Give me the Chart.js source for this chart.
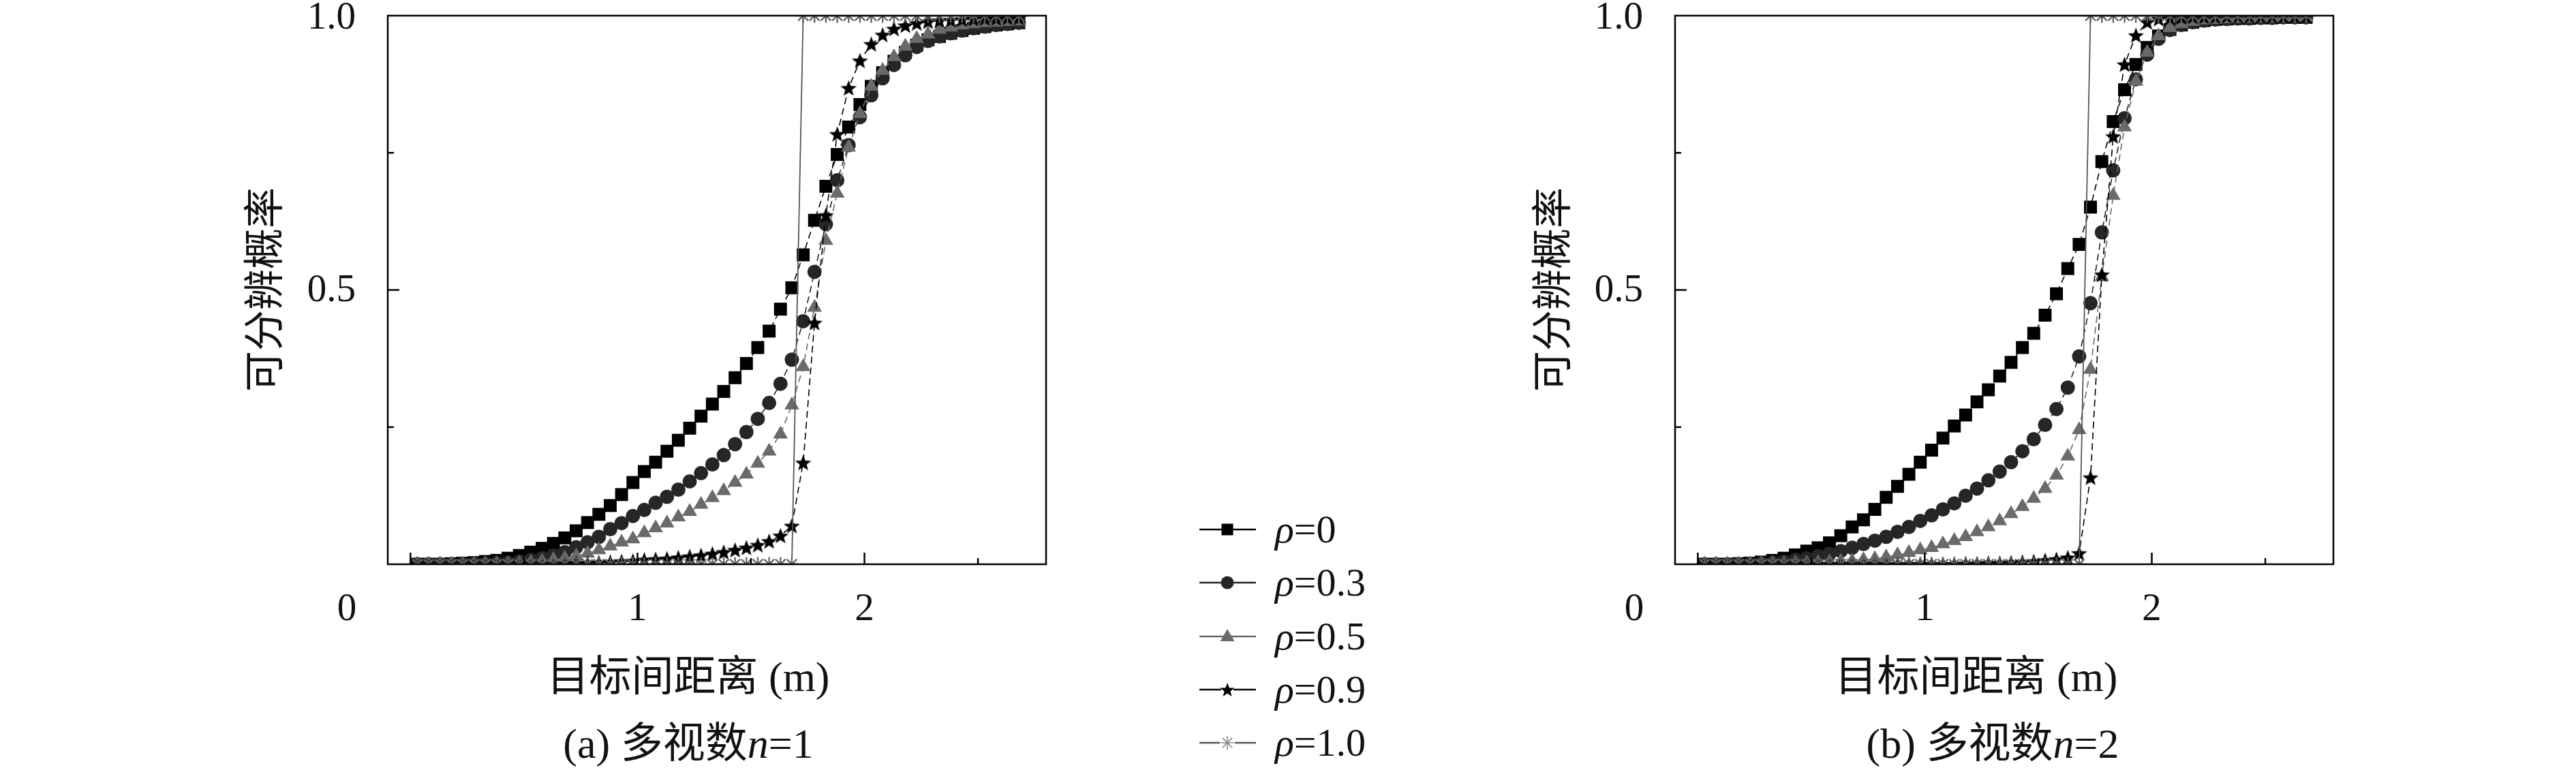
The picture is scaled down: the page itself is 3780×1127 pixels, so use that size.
<!DOCTYPE html>
<html>
<head>
<meta charset="utf-8">
<script src="https://cdn.jsdelivr.net/npm/chart.js@4/dist/chart.umd.min.js"></script>
<style>
  html, body { margin: 0; padding: 0; background: #fff; }
  #page { position: relative; width: 3780px; height: 1127px; overflow: hidden; background: #fff; }
  canvas.plot { position: absolute; top: 0; }
  .txt { position: absolute; white-space: nowrap; color: #111; line-height: 1; font-size: 62px;
         font-family: "Liberation Serif", "Noto Sans CJK SC", serif; transform: translate(-50%, -50%); }
  .cjk { font-family: "Noto Sans CJK SC", sans-serif; }
  .ytitle { font-size: 60px; transform: translate(-50%, -50%) rotate(-90deg); }
  .leg-row { position: absolute; left: 1755px; height: 40px; }
  .leg-row canvas { position: absolute; left: 0; top: 0; }
  .leg-row span { position: absolute; left: 116px; top: 20px; transform: translateY(-50%);
                  font-family: "Liberation Serif", serif; font-size: 58px; line-height: 1; white-space: nowrap; color: #111; }
</style>
</head>
<body>
<div id="page">
  <canvas id="chartA" class="plot" width="1300" height="960" style="left:400px"></canvas>
  <canvas id="chartB" class="plot" width="1300" height="960" style="left:2290px"></canvas>

  <div class="txt ytitle cjk" style="left:383px; top:425px;">可分辨概率</div>
  <div class="txt" style="left:1010px; top:990px;"><span class="cjk">目标间距离</span> (m)</div>
  <div class="txt" style="left:1010px; top:1088px;">(a) <span class="cjk">多视数</span><i>n</i>=1</div>

  <div class="txt ytitle cjk" style="left:2273px; top:425px;">可分辨概率</div>
  <div class="txt" style="left:2900px; top:990px;"><span class="cjk">目标间距离</span> (m)</div>
  <div class="txt" style="left:2924px; top:1088px;">(b) <span class="cjk">多视数</span><i>n</i>=2</div>

  <div id="legend"></div>
</div>

<script>
// target separation (m)
const distance = [0.03,0.08,0.13,0.18,0.23,0.28,0.33,0.38,0.43,0.48,
  0.53,0.58,0.63,0.68,0.73,0.78,0.83,0.88,0.93,0.98,
  1.03,1.08,1.13,1.18,1.23,1.28,1.33,1.38,1.43,1.48,
  1.53,1.58,1.63,1.68,1.73,1.78,1.83,1.88,1.93,1.98,
  2.03,2.08,2.13,2.18,2.23,2.28,2.33,2.38,2.43,2.48,
  2.53,2.58,2.63,2.68];

const rhoLabels = ['0', '0.3', '0.5', '0.9', '1.0'];

// (a) n = 1
const n1Rho0 = [0,0,0,0.001,0.002,0.003,0.005,0.007,0.011,0.016,
  0.022,0.029,0.038,0.048,0.061,0.076,0.091,0.107,0.127,0.149,
  0.169,0.186,0.206,0.226,0.248,0.270,0.292,0.315,0.340,0.366,
  0.395,0.425,0.465,0.504,0.564,0.627,0.689,0.747,0.797,0.838,
  0.871,0.896,0.917,0.933,0.946,0.956,0.962,0.968,0.973,0.977,
  0.980,0.983,0.985,0.987];
const n1Rho3 = [0,0,0,0,0.001,0.001,0.001,0.002,0.003,0.005,
  0.008,0.011,0.016,0.022,0.031,0.040,0.050,0.064,0.075,0.088,
  0.099,0.112,0.123,0.136,0.151,0.166,0.182,0.199,0.219,0.241,
  0.265,0.294,0.329,0.373,0.443,0.533,0.620,0.700,0.764,0.815,
  0.855,0.886,0.910,0.928,0.943,0.954,0.962,0.968,0.973,0.977,
  0.980,0.983,0.985,0.987];
const n1Rho5 = [0,0,0,0,0,0,0.001,0.001,0.001,0.002,
  0.003,0.005,0.008,0.011,0.015,0.020,0.026,0.033,0.040,0.046,
  0.057,0.066,0.075,0.086,0.096,0.109,0.121,0.134,0.149,0.164,
  0.184,0.206,0.237,0.290,0.360,0.468,0.590,0.676,0.760,0.821,
  0.871,0.900,0.925,0.944,0.958,0.966,0.975,0.979,0.983,0.985,
  0.987,0.988,0.989,0.990];
const n1Rho9 = [0,0,0,0,0,0,0,0,0,0,
  0,0,0,0.001,0.002,0.002,0.003,0.004,0.005,0.006,
  0.008,0.009,0.010,0.012,0.014,0.016,0.019,0.022,0.026,0.030,
  0.035,0.042,0.052,0.070,0.185,0.440,0.636,0.784,0.868,0.918,
  0.948,0.965,0.976,0.982,0.986,0.989,0.991,0.992,0.993,0.994,
  0.995,0.995,0.996,0.996];
const n1Rho10 = [0,0,0,0,0,0,0,0,0,0,
  0,0,0,0,0,0,0,0,0,0,
  0,0,0,0,0,0,0,0,0,0,
  0,0,0,0,1,1,1,1,1,1,
  1,1,1,1,1,1,1,1,1,1,
  1,1,1,1];

// (b) n = 2
const n2Rho0 = [0,0,0,0.001,0.002,0.004,0.007,0.011,0.017,0.024,
  0.030,0.039,0.052,0.068,0.081,0.100,0.122,0.142,0.164,0.186,
  0.208,0.230,0.252,0.272,0.296,0.318,0.343,0.368,0.395,0.421,
  0.454,0.493,0.539,0.583,0.651,0.734,0.807,0.865,0.911,0.942,
  0.963,0.975,0.983,0.988,0.991,0.993,0.994,0.995,0.995,0.996,
  0.996,0.997,0.997,0.997];
const n2Rho3 = [0,0,0,0,0.001,0.002,0.003,0.005,0.008,0.011,
  0.015,0.019,0.024,0.030,0.037,0.043,0.050,0.059,0.068,0.079,
  0.089,0.100,0.111,0.125,0.138,0.153,0.169,0.186,0.206,0.228,
  0.254,0.283,0.322,0.379,0.476,0.605,0.718,0.813,0.884,0.929,
  0.958,0.974,0.983,0.988,0.991,0.993,0.994,0.995,0.995,0.996,
  0.996,0.997,0.997,0.997];
const n2Rho5 = [0,0,0,0,0,0.001,0.001,0.001,0.002,0.002,
  0.003,0.004,0.005,0.006,0.008,0.010,0.013,0.017,0.021,0.026,
  0.030,0.037,0.043,0.050,0.059,0.068,0.079,0.092,0.105,0.120,
  0.138,0.162,0.197,0.245,0.355,0.524,0.672,0.797,0.880,0.933,
  0.963,0.978,0.985,0.989,0.992,0.993,0.994,0.995,0.995,0.996,
  0.996,0.997,0.997,0.997];
const n2Rho9 = [0,0,0,0,0,0,0,0,0,0,
  0,0,0,0,0,0,0,0,0,0,
  0,0,0,0.001,0.001,0.002,0.002,0.003,0.004,0.005,
  0.007,0.009,0.012,0.020,0.158,0.528,0.780,0.911,0.964,0.988,
  0.994,0.996,0.997,0.998,0.998,0.998,0.999,0.999,0.999,0.999,
  0.999,0.999,0.999,0.999];
const n2Rho10 = [0,0,0,0,0,0,0,0,0,0,
  0,0,0,0,0,0,0,0,0,0,
  0,0,0,0,0,0,0,0,0,0,
  0,0,0,0,1,1,1,1,1,1,
  1,1,1,1,1,1,1,1,1,1,
  1,1,1,1];

// axis ticks
const xMajorTicks = [0, 1, 2];
const xMinorTicks = [0.5, 1.5, 2.5];
const xTickLabels = ['1', '2'];
const yMajorTicks = [0.5];
const yMinorTicks = [0.25, 0.75];
const yTickLabels = ['0.5', '1.0'];

// filled five-point star marker for rho = 0.9
function makeStar(size, color) {
  const c = document.createElement('canvas');
  c.width = size; c.height = size;
  const g = c.getContext('2d');
  const cx = size / 2, cy = size / 2 + 1, ro = size / 2, ri = ro * 0.42;
  g.beginPath();
  for (let i = 0; i < 10; i++) {
    const r = i % 2 ? ri : ro;
    const a = -Math.PI / 2 + i * Math.PI / 5;
    g.lineTo(cx + r * Math.cos(a), cy + r * Math.sin(a));
  }
  g.closePath();
  g.fillStyle = color;
  g.fill();
  return c;
}
const starImg = makeStar(25, '#000');
const starSmall = makeStar(22, '#000');

const styles = [
  { line: '#000', fill: '#000', point: 'rect', radius: 13.4, dash: [10, 6], width: 1.6 },
  { line: '#222', fill: '#262626', point: 'circle', radius: 10.5, dash: [10, 6], width: 1.6 },
  { line: '#6a6a6a', fill: '#6a6a6a', point: 'triangle', radius: 12.5, dash: [10, 6], width: 1.6 },
  { line: '#000', fill: '#000', point: starImg, radius: 12, dash: [10, 6], width: 1.6 },
  { line: '#555', fill: '#626262', point: 'star', radius: 10.5, dash: [], width: 1.8 }
];

function makeDatasets(series) {
  return series.map(function(vals, i) {
    const s = styles[i];
    return {
      label: 'ρ=' + rhoLabels[i],
      data: distance.map(function(d, k) { return { x: d, y: vals[k] }; }),
      borderColor: s.line,
      borderWidth: s.width,
      borderDash: s.dash,
      backgroundColor: s.fill,
      pointStyle: s.point,
      pointRadius: s.radius,
      pointBackgroundColor: s.fill,
      pointBorderColor: s.fill,
      pointBorderWidth: s.point === 'star' ? 2.3 : 0,
      tension: 0,
      order: 5 - i
    };
  });
}

// frame, inward ticks and tick labels drawn on the chart's own scales
const framePlugin = {
  id: 'frame',
  afterDraw: function(chart) {
    const ctx = chart.ctx;
    const a = chart.chartArea;
    const xs = chart.scales.x, ys = chart.scales.y;
    ctx.save();
    ctx.strokeStyle = '#000';
    ctx.lineWidth = 2.5;
    ctx.strokeRect(a.left, a.top, a.right - a.left, a.bottom - a.top);
    ctx.beginPath();
    xMajorTicks.forEach(function(v) {
      const p = xs.getPixelForValue(v);
      ctx.moveTo(p, a.bottom); ctx.lineTo(p, a.bottom - 17);
    });
    xMinorTicks.forEach(function(v) {
      const p = xs.getPixelForValue(v);
      ctx.moveTo(p, a.bottom); ctx.lineTo(p, a.bottom - 9);
    });
    yMajorTicks.forEach(function(v) {
      const p = ys.getPixelForValue(v);
      ctx.moveTo(a.left, p); ctx.lineTo(a.left + 17, p);
    });
    yMinorTicks.forEach(function(v) {
      const p = ys.getPixelForValue(v);
      ctx.moveTo(a.left, p); ctx.lineTo(a.left + 9, p);
    });
    ctx.stroke();

    ctx.fillStyle = '#111';
    ctx.font = '57px "Liberation Serif", serif';
    ctx.textBaseline = 'middle';
    ctx.textAlign = 'center';
    const labY = a.bottom + 67;
    ctx.fillText('0', a.left - 60, labY);
    ctx.fillText(xTickLabels[0], xs.getPixelForValue(1), labY);
    ctx.fillText(xTickLabels[1], xs.getPixelForValue(2), labY);
    ctx.textAlign = 'right';
    ctx.fillText(yTickLabels[0], a.left - 47, ys.getPixelForValue(0.5) + 2);
    ctx.fillText(yTickLabels[1], a.left - 47, ys.getPixelForValue(1) + 4);
    ctx.restore();
  }
};

function makeChart(id, series, pad) {
  return new Chart(document.getElementById(id), {
    type: 'line',
    data: { datasets: makeDatasets(series) },
    options: {
      responsive: false,
      animation: false,
      devicePixelRatio: 1,
      layout: { padding: pad },
      plugins: { legend: { display: false }, tooltip: { enabled: false } },
      scales: {
        x: { type: 'linear', min: -0.1, max: 2.8, display: false },
        y: { type: 'linear', min: 0, max: 1, display: false }
      }
    },
    plugins: [framePlugin]
  });
}

makeChart('chartA', [n1Rho0, n1Rho3, n1Rho5, n1Rho9, n1Rho10],
  { left: 169, right: 165, top: 23, bottom: 132 });
makeChart('chartB', [n2Rho0, n2Rho3, n2Rho5, n2Rho9, n2Rho10],
  { left: 168, right: 166, top: 23, bottom: 132 });

// shared legend: line + marker sample and label
const legendY = [777, 855, 934, 1012, 1090];
const legend = document.getElementById('legend');
styles.forEach(function(s, i) {
  const row = document.createElement('div');
  row.className = 'leg-row';
  row.style.top = (legendY[i] - 20) + 'px';
  const c = document.createElement('canvas');
  c.width = 100; c.height = 40;
  row.appendChild(c);
  const g = c.getContext('2d');
  g.strokeStyle = s.line;
  g.lineWidth = 2.5;
  g.beginPath(); g.moveTo(5, 20); g.lineTo(88, 20); g.stroke();
  const cx = 46, cy = 20;
  g.fillStyle = s.fill;
  if (s.point === 'rect') {
    g.fillRect(cx - 8.5, cy - 8.5, 17, 17);
  } else if (s.point === 'circle') {
    g.beginPath(); g.arc(cx, cy, 9.5, 0, Math.PI * 2); g.fill();
  } else if (s.point === 'triangle') {
    g.beginPath(); g.moveTo(cx, cy - 11); g.lineTo(cx + 10.5, cy + 7); g.lineTo(cx - 10.5, cy + 7); g.closePath(); g.fill();
  } else if (s.point === 'star') {
    g.fillStyle = '#fff'; g.fillRect(cx - 11, cy - 11, 22, 22);
    g.strokeStyle = '#8a8a8a'; g.lineWidth = 1.6;
    g.beginPath();
    for (let k = 0; k < 4; k++) {
      const ang = k * Math.PI / 4;
      g.moveTo(cx - 10 * Math.cos(ang), cy - 10 * Math.sin(ang));
      g.lineTo(cx + 10 * Math.cos(ang), cy + 10 * Math.sin(ang));
    }
    g.stroke();
  } else {
    g.fillStyle = '#fff'; g.fillRect(cx - 9, cy - 11, 18, 22);
    g.drawImage(starSmall, cx - 11, cy - 11);
  }
  const t = document.createElement('span');
  t.innerHTML = '<i>ρ</i>=' + rhoLabels[i];
  row.appendChild(t);
  legend.appendChild(row);
});
</script>
</body>
</html>
